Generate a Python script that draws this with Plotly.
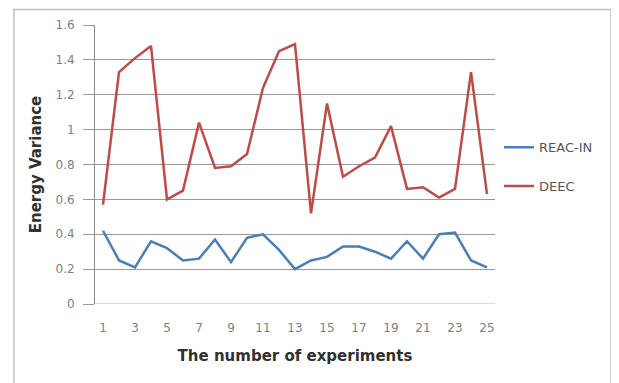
import plotly.graph_objects as go

experiments = list(range(1, 26))
tick_labels = [str(i) for i in range(1, 26, 2)]
reac_in = [0.42, 0.25, 0.21, 0.36, 0.32, 0.25, 0.26, 0.37, 0.24, 0.38, 0.40, 0.31, 0.20,
           0.25, 0.27, 0.33, 0.33, 0.30, 0.26, 0.36, 0.26, 0.40, 0.41, 0.25, 0.21]
deec = [0.57, 1.33, 1.41, 1.48, 0.60, 0.65, 1.04, 0.78, 0.79, 0.86, 1.24, 1.45, 1.49,
        0.52, 1.15, 0.73, 0.79, 0.84, 1.02, 0.66, 0.67, 0.61, 0.66, 1.33, 0.63]

fig = go.Figure()
fig.add_trace(go.Scatter(x=experiments, y=reac_in, mode="lines", name="REAC-IN",
                         line=dict(color="#4a7ebb", width=2.5), legendgroup="a"))
fig.add_trace(go.Scatter(x=experiments, y=deec, mode="lines", name="DEEC",
                         line=dict(color="#be4b48", width=2.5), legendgroup="b"))

border = dict(color="#c0c0c0", width=1.5)
fig.update_layout(
    width=611, height=375,
    margin=dict(l=87, r=124, t=17, b=79, autoexpand=False),
    paper_bgcolor="white", plot_bgcolor="white",
    font=dict(family="DejaVu Sans, sans-serif", color="#595959"),
    showlegend=True,
    legend=dict(x=1.01, y=0.492, xanchor="left", yanchor="middle",
                font=dict(size=13, color="#555555"), tracegroupgap=19,
                traceorder="grouped", itemwidth=30, bgcolor="rgba(0,0,0,0)"),
    xaxis=dict(range=[0.5, 25.5], tickmode="array", tickvals=list(range(1, 26, 2)),
               ticktext=tick_labels, showgrid=False, zeroline=False,
               showline=False, ticks="", ticklabelstandoff=15, automargin=False,
               tickfont=dict(size=12, color="#808080"),
               title=dict(text="<b>The number of experiments</b>", standoff=16,
                          font=dict(size=15, color="#303030"))),
    yaxis=dict(range=[0, 1.6], tickvals=[0, 0.2, 0.4, 0.6, 0.8, 1, 1.2, 1.4, 1.6],
               ticktext=["0", "0.2", "0.4", "0.6", "0.8", "1", "1.2", "1.4", "1.6"],
               showgrid=True, gridcolor="#999999", gridwidth=1, zeroline=False,
               showline=True, linecolor="#888888", linewidth=1, automargin=False,
               ticks="outside", ticklen=11, tickcolor="#999999", ticklabelstandoff=6,
               tickfont=dict(size=12, color="#808080"),
               title=dict(text="<b>Energy Variance</b>", standoff=10,
                          font=dict(size=15, color="#303030"))),
    shapes=[
        dict(type="line", xref="paper", yref="y", x0=0, x1=1, y0=0, y1=0,
             line=dict(color="#bbbbbb", width=1)),
        dict(type="line", xref="paper", yref="paper", x0=-0.205, x1=1.29,
             y0=1.056, y1=1.056, line=border, layer="above"),
        dict(type="line", xref="paper", yref="paper", x0=-0.2025, x1=-0.2025,
             y0=-0.35, y1=1.056, line=border, layer="above"),
        dict(type="line", xref="paper", yref="paper", x0=1.29, x1=1.29,
             y0=-0.35, y1=1.056, line=border, layer="above"),
    ],
)

fig.write_html("out.html")
